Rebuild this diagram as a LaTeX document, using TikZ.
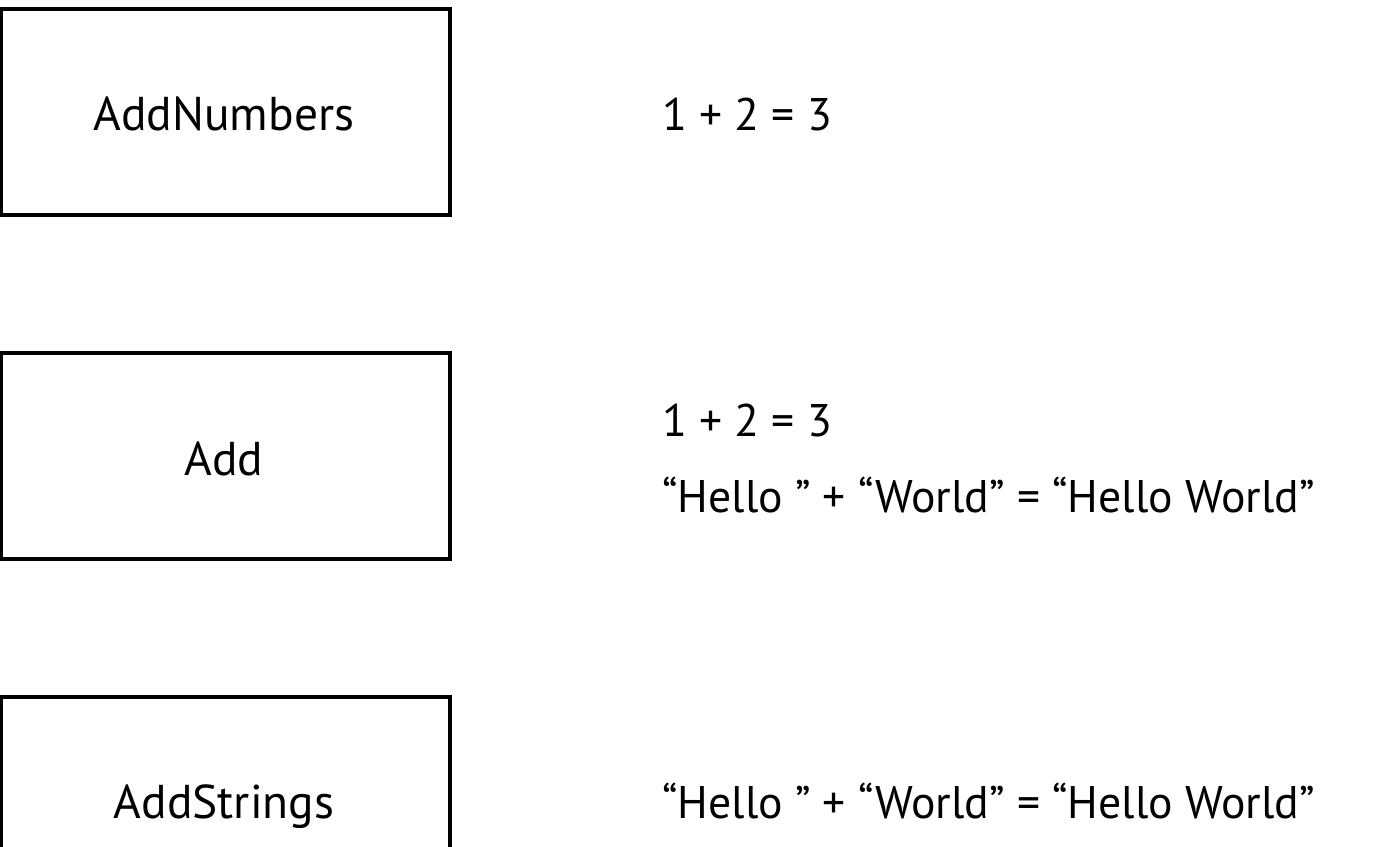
\documentclass[tikz,border=0pt]{standalone}
\usepackage{fontspec}
\setmainfont{PT Sans}
\usetikzlibrary{positioning}

\begin{document}
\begin{tikzpicture}[x=0.02cm,y=-0.02cm]
 \tikzstyle{method}=[draw,line width=2.7pt,minimum width=8.98cm,minimum
 height=4.12cm,inner sep=0pt]
 \tikzstyle{label}=[font=\fontsize{26}{30}\selectfont,inner sep=0pt]
\useasboundingbox (0,0) rectangle (1379,846);
\node (addnum) [method] at (225.5,112) {};
\node (add) [method] at (225.5,456) {};
\node (addstr) [method] at (225.5,800) {};
\node (addnumtxt) [label,font=\fontsize{27}{30}\selectfont,anchor=base] at (224,130) {AddNumbers};
\node (addtxt) [label,font=\fontsize{27}{30}\selectfont,anchor=base] at (224,475) {Add};
\node (addstrtxt) [label,font=\fontsize{27}{30}\selectfont,anchor=base] at (224,818) {AddStrings};
\node (sumA) [label,anchor=base west] at (662,130) {1 + 2 = 3};
\node (sumB) [label,anchor=base west] at (662,436) {1 + 2 = 3};
\node (concatB) [label,anchor=base west] at (662,512) {“Hello ” + “World” = “Hello World”};
\node (concatC) [label,anchor=base west] at (662,818) {“Hello ” + “World” = “Hello World”};
\end{tikzpicture}
\end{document}
